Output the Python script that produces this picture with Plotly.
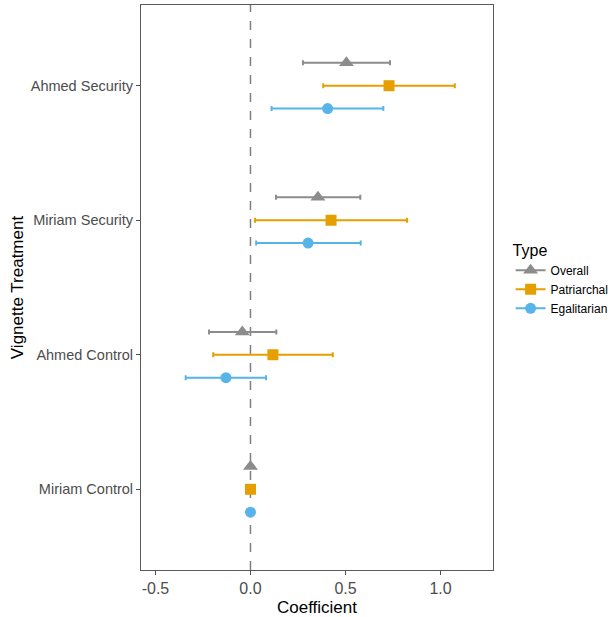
import plotly.graph_objects as go

categories = ["Miriam Control", "Ahmed Control", "Miriam Security", "Ahmed Security"]
types = ["Overall", "Patriarchal", "Egalitarian"]

# coefficient estimates and CI bounds per type, ordered as categories
est = {
    "Overall":     [0.0, -0.043, 0.355, 0.505],
    "Patriarchal": [0.0, 0.118, 0.424, 0.729],
    "Egalitarian": [0.0, -0.129, 0.303, 0.406],
}
lo = {
    "Overall":     [0.0, -0.218, 0.134, 0.276],
    "Patriarchal": [0.0, -0.196, 0.024, 0.383],
    "Egalitarian": [0.0, -0.341, 0.030, 0.111],
}
hi = {
    "Overall":     [0.0, 0.136, 0.578, 0.734],
    "Patriarchal": [0.0, 0.433, 0.824, 1.075],
    "Egalitarian": [0.0, 0.082, 0.580, 0.699],
}
x_ticks = [-0.5, 0.0, 0.5, 1.0]
x_tick_labels = ["-0.5", "0.0", "0.5", "1.0"]

colors = {"Overall": "#8C8C8C", "Patriarchal": "#E69F00", "Egalitarian": "#56B4E9"}
symbols = {"Overall": "triangle-up", "Patriarchal": "square", "Egalitarian": "circle"}
sizes = {"Overall": 13, "Patriarchal": 11, "Egalitarian": 11}
dodge = {"Overall": 0.17, "Patriarchal": 0.0, "Egalitarian": -0.17}

fig = go.Figure()
for t in types:
    ys = [i + 1 + dodge[t] for i in range(len(categories))]
    fig.add_trace(go.Scatter(
        x=est[t], y=ys, name=t, mode="markers",
        marker=dict(symbol=symbols[t], size=sizes[t], color=colors[t]),
        error_x=dict(type="data", symmetric=False,
                     array=[h - e for h, e in zip(hi[t], est[t])],
                     arrayminus=[e - l for e, l in zip(est[t], lo[t])],
                     color=colors[t], thickness=2, width=2.5),
        showlegend=False,
    ))
# legend entries
for t in types:
    fig.add_trace(go.Scatter(
        x=[None], y=[None], name=t, mode="markers+lines",
        line=dict(color=colors[t], width=2),
        marker=dict(symbol=symbols[t], size=sizes[t], color=colors[t]),
    ))

fig.add_shape(type="line", x0=0, x1=0, y0=0, y1=1, xref="x", yref="paper",
              line=dict(color="#7F7F7F", width=1.5, dash="dash"), layer="below")

fig.update_layout(
    width=616, height=617,
    margin=dict(l=141, r=123, t=5, b=47, autoexpand=False),
    paper_bgcolor="white", plot_bgcolor="white",
    font=dict(family="Liberation Sans, Arial, sans-serif", color="black"),
    legend=dict(title=dict(text="Type", font=dict(size=16)),
                font=dict(size=12), x=1.05, xanchor="left", y=0.515, yanchor="middle",
                tracegroupgap=0),
    xaxis=dict(range=[-0.576, 1.276], tickvals=x_ticks, ticktext=x_tick_labels,
               showgrid=False, zeroline=False, showline=True, mirror=True,
               linecolor="#5A5A5A", linewidth=1, ticks="outside", ticklen=4,
               tickcolor="#4D4D4D", tickfont=dict(size=16, color="#4D4D4D"),
               title=dict(text="Coefficient", font=dict(size=17), standoff=4)),
    yaxis=dict(range=[0.4, 4.6], tickvals=[1, 2, 3, 4], ticktext=categories,
               showgrid=False, zeroline=False, showline=True, mirror=True,
               linecolor="#5A5A5A", linewidth=1, ticks="outside", ticklen=4,
               tickcolor="#4D4D4D", tickfont=dict(size=14.5, color="#4D4D4D"),
               title=dict(text="Vignette Treatment", font=dict(size=17), standoff=2)),
)

fig.write_html("out.html")
